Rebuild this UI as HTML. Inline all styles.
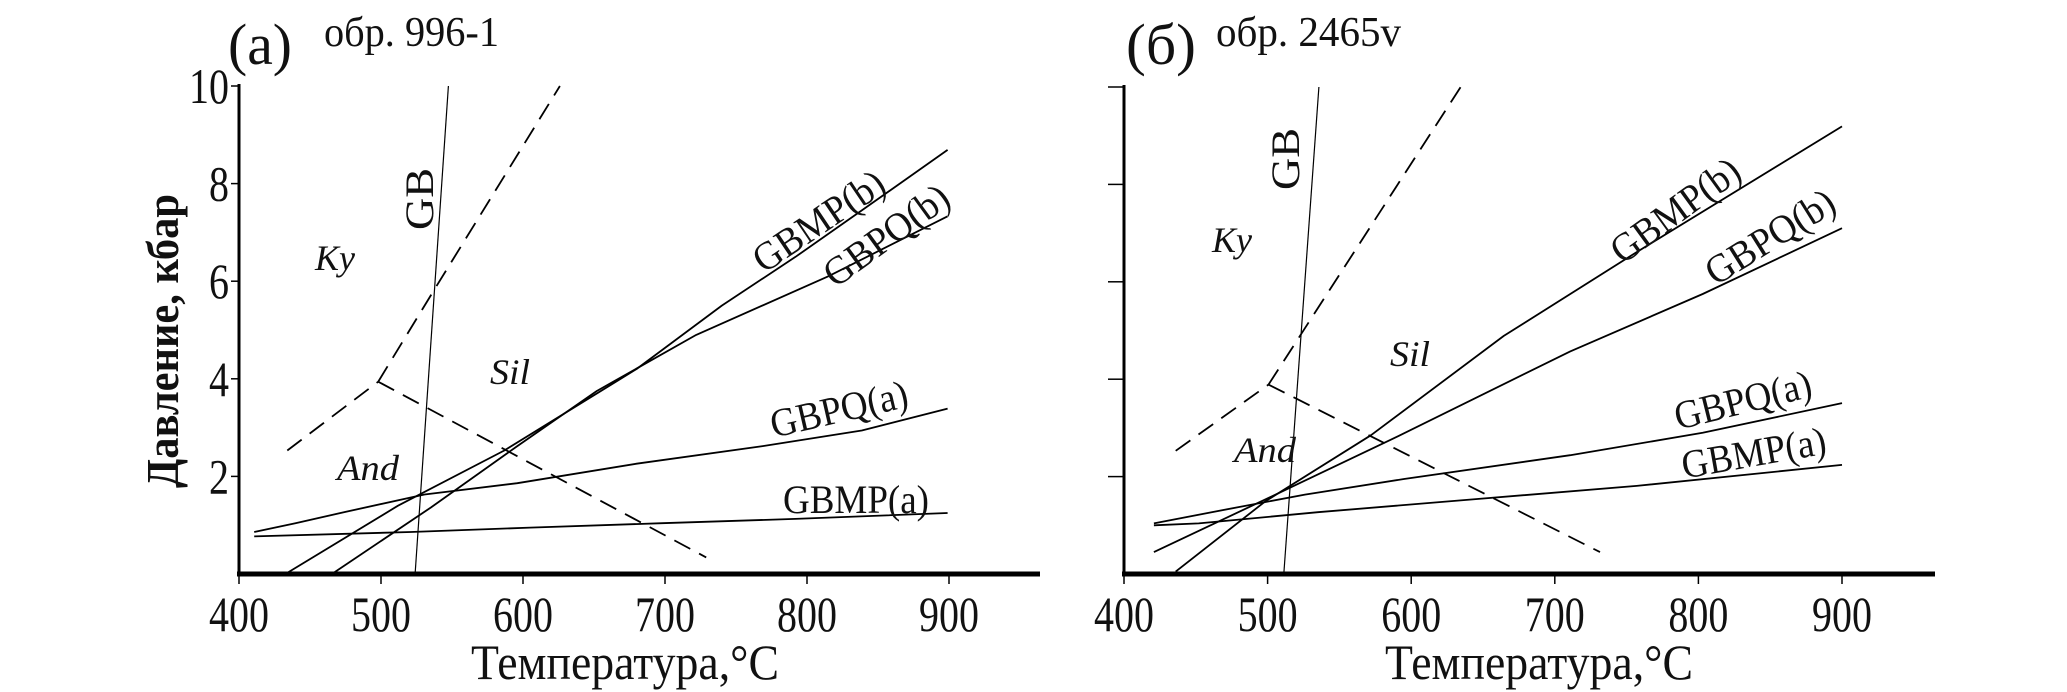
<!DOCTYPE html>
<html><head><meta charset="utf-8"><style>
html,body{margin:0;padding:0;background:#fff}
svg{display:block;font-family:"Liberation Serif",serif}
</style></head><body>
<svg id="c" width="2067" height="692" viewBox="0 0 2067 692"></svg>
<script>
const xTicks=[400,500,600,700,800,900];
const yTicks=[2,4,6,8,10];
// panel (a) data [T, P]
const aGB=[[524,0],[547.5,10]];
const aKySil=[[498,3.94],[537.8,5.84],[626,10]];
const aAndKy=[[434,2.53],[498,3.94]];
const aAndSil=[[498,3.94],[729,0.34]];
const aGBPQa=[[410.7,0.86],[439.7,1.04],[474.6,1.27],[530.6,1.63],[596,1.86],[680,2.26],[768.8,2.62],[838.6,2.94],[899,3.39]];
const aGBMPa=[[410.7,0.77],[521,0.86],[605,0.95],[698,1.04],[791.8,1.13],[899,1.25]];
const aGBMPb=[[432.7,0],[512,1.4],[586.8,2.53],[680,4.2],[740,5.5],[792,6.5],[838.6,7.45],[899,8.69]];
const aGBPQb=[[465.4,0],[535,1.36],[596,2.62],[652,3.75],[722,4.9],[815,6.1],[899,7.33]];
// panel (б) data
const bGB=[[511.3,0],[535.7,10]];
const bKySil=[[500.6,3.89],[635.5,10.05]];
const bAndKy=[[436,2.53],[500.6,3.89]];
const bAndSil=[[500.6,3.89],[731.5,0.45]];
const bGBMPb=[[436,0.05],[498.3,1.49],[572,2.85],[664.5,4.89],[757,6.61],[900,9.19]];
const bGBPQb=[[420.8,0.45],[512,1.72],[586,2.76],[710.7,4.57],[803,5.75],[900,7.1]];
const bGBPQa=[[420.8,1.04],[461,1.27],[526,1.63],[595,1.95],[710.7,2.44],[803,2.9],[900,3.51]];
const bGBMPa=[[420.8,1.0],[452,1.04],[535,1.27],[646,1.54],[757,1.81],[900,2.24]];

const NS="http://www.w3.org/2000/svg";
const svg=document.getElementById('c');
function el(t,a,parent){const e=document.createElementNS(NS,t);for(const k in a)e.setAttribute(k,a[k]);(parent||svg).appendChild(e);return e;}
function txt(s,x,y,size,opts,name){opts=opts||{};const a={x:x,y:y,'font-size':size,'text-anchor':opts.anchor||'middle',fill:'#111'};
 if(opts.len){a.textLength=opts.len;a.lengthAdjust='spacingAndGlyphs';}
 if(opts.italic)a['font-style']='italic';if(opts.bold)a['font-weight']='bold';
 if(opts.rot!==undefined)a.transform='rotate('+opts.rot+' '+x+' '+y+')';
 const e=el('text',a);e.textContent=s;
 
 
 return e;}

function panel(p){
 const X=t=>p.x0+(t-400)*p.sx/100, Y=v=>p.y0-v*p.sy;
 const g=el('g',{});
 
 
 const xa=el('line',{x1:X(400)-2,y1:p.y0,x2:p.xEnd,y2:p.y0,stroke:'#000','stroke-width':5},g);
 
 
 const ya=el('line',{x1:X(400),y1:p.y0+2,x2:X(400),y2:Y(10)-2,stroke:'#000','stroke-width':3},g);
 
 
 xTicks.forEach(t=>{
  const tk=el('line',{x1:X(t),y1:p.y0,x2:X(t),y2:p.y0+10,stroke:'#000','stroke-width':1.5},g);
  
  
  txt(String(t),X(t),631,50,{len:60},p.id+'-x-tick-label');
 });
 yTicks.forEach(v=>{
  const tk=el('line',{x1:X(400)-p.tickLen,y1:Y(v),x2:X(400),y2:Y(v),stroke:'#000','stroke-width':1.5},g);
  
  
  if(p.yLabels) txt(String(v),X(400)-10,Y(v)+17,50,{anchor:'end',len:v===10?40:20},p.id+'-y-tick-label');
 });
 p.series.forEach(s=>{
  const d=s.data.map((q,i)=>(i?'L':'M')+X(q[0]).toFixed(1)+','+Y(q[1]).toFixed(1)).join(' ');
  const a={d:d,fill:'none',stroke:'#000','stroke-width':s.w||1.8,'stroke-linejoin':'round'};
  if(s.dash)a['stroke-dasharray']='18,10';
  const e=el('path',a,g);
  
  
 });
}

panel({id:'a',x0:239,sx:142,y0:574,sy:48.8,xEnd:1040,tickLen:8,yLabels:true,series:[
 {name:'gb-line',data:aGB,w:1.2},{name:'ky-sil-boundary',data:aKySil,dash:1},{name:'and-ky-boundary',data:aAndKy,dash:1},
 {name:'and-sil-boundary',data:aAndSil,dash:1},{name:'gbpq-a-line',data:aGBPQa},{name:'gbmp-a-line',data:aGBMPa},
 {name:'gbmp-b-line',data:aGBMPb},{name:'gbpq-b-line',data:aGBPQb}]});
panel({id:'b',x0:1124,sx:143.6,y0:574,sy:48.7,xEnd:1935,tickLen:16,yLabels:false,series:[
 {name:'gb-line',data:bGB,w:1.2},{name:'ky-sil-boundary',data:bKySil,dash:1},{name:'and-ky-boundary',data:bAndKy,dash:1},
 {name:'and-sil-boundary',data:bAndSil,dash:1},{name:'gbpq-a-line',data:bGBPQa},{name:'gbmp-a-line',data:bGBMPa},
 {name:'gbmp-b-line',data:bGBMPb},{name:'gbpq-b-line',data:bGBPQb}]});

txt('(a)',260,64,58,{len:64},'panel-a-letter');
txt('обр. 996-1',324,46,42,{anchor:'start',len:175},'panel-a-title');
txt('(б)',1161,64,58,{len:70},'panel-b-letter');
txt('обр. 2465v',1216,46,42,{anchor:'start',len:185},'panel-b-title');
txt('Температура,°C',625,679,50,{len:308},'panel-a-x-axis-title');
txt('Температура,°C',1539,679,50,{len:308},'panel-b-x-axis-title');
txt('Давление, кбар',178,341,46,{rot:-90,len:294,bold:1},'y-axis-title');
// annotations panel a
txt('GB',433,199,40,{rot:-90,len:62},'a-gb-label');
txt('Ky',335,270,36,{italic:1,len:40},'a-ky-label');
txt('Sil',510,384,36,{italic:1,len:40},'a-sil-label');
txt('And',368,480,36,{italic:1,len:62},'a-and-label');
txt('GBMP(b)',826,232,40,{rot:-34,len:150},'a-gbmp-b-label');
txt('GBPQ(b)',894,246,40,{rot:-36,len:145},'a-gbpq-b-label');
txt('GBPQ(a)',842,422,40,{rot:-13,len:140},'a-gbpq-a-label');
txt('GBMP(a)',856,513,40,{len:146},'a-gbmp-a-label');
// annotations panel b
txt('GB',1299,159,40,{rot:-90,len:62},'b-gb-label');
txt('Ky',1232,252,36,{italic:1,len:40},'b-ky-label');
txt('Sil',1410,366,36,{italic:1,len:40},'b-sil-label');
txt('And',1265,462,36,{italic:1,len:62},'b-and-label');
txt('GBMP(b)',1683,221,40,{rot:-36,len:150},'b-gbmp-b-label');
txt('GBPQ(b)',1777,248,40,{rot:-32,len:145},'b-gbpq-b-label');
txt('GBPQ(a)',1746,413,40,{rot:-14,len:140},'b-gbpq-a-label');
txt('GBMP(a)',1756,466,40,{rot:-10,len:146},'b-gbmp-a-label');
</script>
</body></html>
